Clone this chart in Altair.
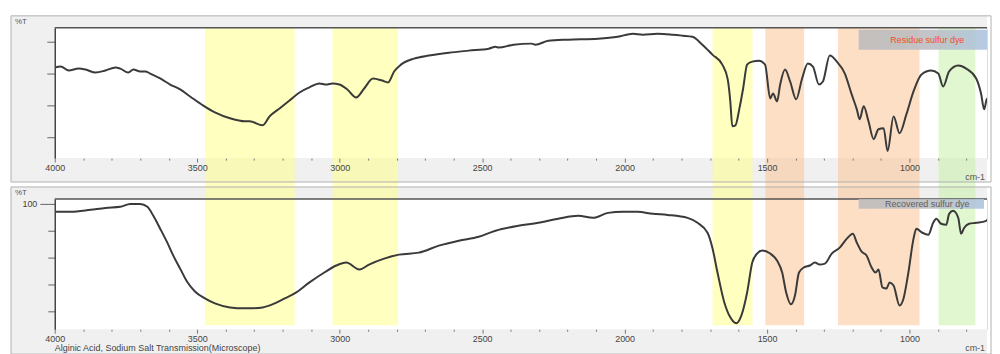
import altair as alt
import pandas as pd

# ---------------- data ----------------
# Top panel: "Residue sulfur dye"  (wavenumber cm-1, %T)
wn_top = [4000, 3979, 3951, 3916, 3892, 3857, 3822, 3787, 3770, 3742, 3724, 3700, 3682, 3665,
          3630, 3595, 3560, 3525, 3480, 3438, 3385, 3333, 3316, 3270, 3246, 3211, 3176, 3141,
          3106, 3071, 3047, 3026, 3001, 2973, 2942, 2914, 2883, 2851, 2830, 2809, 2785, 2739,
          2687, 2617, 2547, 2477, 2453, 2443, 2390, 2327, 2313, 2268, 2198, 2093, 2024, 1971,
          1936, 1884, 1831, 1797, 1762, 1727, 1692, 1657, 1638, 1629, 1622, 1611, 1597, 1584,
          1570, 1552, 1528, 1507, 1489, 1479, 1465, 1454, 1437, 1419, 1398, 1377, 1357, 1339,
          1318, 1304, 1280, 1255, 1227, 1203, 1185, 1175, 1161, 1144, 1126, 1109, 1091, 1077,
          1056, 1035, 1011, 986, 958, 924, 899, 882, 861, 829, 801, 766, 749, 738, 728, 714, 704]
t_top = [63.8, 64.4, 61.9, 63.1, 62.5, 60.6, 61.9, 63.8, 63.1, 60.6, 62.5, 61.3, 61.3, 60.0,
         56.9, 53.1, 50.0, 45.6, 40.0, 35.6, 31.9, 30.0, 30.0, 27.5, 33.1, 38.1, 43.1, 48.1,
         51.3, 53.8, 53.1, 53.8, 53.1, 50.0, 45.0, 50.6, 56.9, 55.6, 54.4, 61.3, 65.6, 69.4,
         71.3, 73.1, 74.4, 75.6, 76.9, 76.3, 78.1, 78.8, 78.1, 80.6, 81.3, 81.9, 83.1, 85.0,
         84.4, 85.0, 84.4, 83.8, 83.1, 78.1, 71.9, 65.6, 56.3, 42.5, 26.9, 27.5, 38.1, 50.6,
         65.6, 67.5, 68.1, 65.6, 44.4, 47.5, 42.5, 53.1, 62.5, 55.0, 43.8, 56.9, 66.3, 64.4,
         53.1, 55.0, 71.3, 67.5, 60.0, 46.9, 37.5, 31.3, 39.4, 30.0, 18.8, 25.0, 25.6, 11.3,
         33.1, 22.5, 34.4, 48.8, 59.4, 61.9, 60.0, 51.9, 61.3, 65.0, 63.1, 56.9, 47.5, 37.5,
         44.4, 33.1, 28.1]

# Bottom panel: "Recovered sulfur dye"
wn_bot = [4000, 3944, 3874, 3822, 3770, 3735, 3700, 3675, 3654, 3630, 3605, 3584, 3560, 3536,
          3508, 3473, 3438, 3385, 3333, 3316, 3270, 3228, 3193, 3158, 3106, 3054, 3012, 2977,
          2931, 2897, 2844, 2792, 2722, 2652, 2582, 2512, 2453, 2373, 2303, 2233, 2163, 2111,
          2058, 2006, 1954, 1901, 1849, 1779, 1744, 1709, 1692, 1674, 1650, 1629, 1608, 1590,
          1570, 1552, 1535, 1517, 1489, 1465, 1447, 1433, 1416, 1402, 1388, 1371, 1350, 1332,
          1315, 1297, 1273, 1245, 1220, 1199, 1185, 1168, 1151, 1133, 1119, 1109, 1095, 1081,
          1070, 1056, 1035, 1021, 1004, 986, 976, 955, 934, 917, 906, 889, 871, 861, 847, 829,
          819, 808, 791, 766, 731, 714, 704]
t_bot = [94.1, 94.1, 95.6, 97.0, 97.8, 100.0, 100.0, 97.8, 91.1, 81.5, 71.1, 61.5, 51.8, 42.2,
         34.8, 29.6, 25.9, 22.9, 22.2, 22.2, 22.9, 25.9, 29.6, 33.3, 41.5, 48.9, 54.1, 56.3,
         51.1, 54.8, 59.2, 62.2, 63.7, 68.9, 72.6, 75.5, 80.0, 83.7, 85.9, 88.9, 91.1, 89.6,
         93.3, 94.1, 94.1, 92.6, 91.8, 89.6, 85.9, 78.5, 67.4, 48.9, 26.6, 15.5, 11.1, 17.0,
         34.0, 56.3, 63.0, 65.2, 63.0, 57.8, 48.9, 34.0, 25.2, 31.8, 48.9, 52.6, 54.1, 56.3,
         54.8, 55.5, 63.0, 67.4, 74.1, 77.8, 71.1, 64.4, 61.5, 52.6, 48.9, 51.1, 37.8, 37.0,
         41.5, 39.2, 24.4, 29.6, 48.9, 74.1, 81.5, 78.5, 77.0, 85.9, 88.9, 85.2, 84.4, 92.6,
         94.8, 89.6, 77.8, 82.2, 85.2, 85.9, 87.4, 91.1, 87.4]

# highlighted wavenumber regions
band_start = [3473, 3025, 1691, 1506, 1251, 898]
band_end = [3158, 2795, 1551, 1370, 965, 769]
band_kind = ["yellow", "yellow", "yellow", "orange", "orange", "green"]

x_labels = [4000, 3500, 3000, 2500, 2000, 1500, 1000]
top_yticks = [20, 40, 60, 80]
bot_yticks = [20, 40, 60, 80, 100]

panel_labels = ["Residue sulfur dye", "Recovered sulfur dye"]
panel_label_colors = ["#f24e26", "#5f5f5f"]
y_title = "%T"
x_unit = "cm-1"
footer = "Alginic Acid, Sodium Salt  Transmission(Microscope)"

# ---------------- chart ----------------
W, H = 937, 131
FONT = "Liberation Sans"
one = pd.DataFrame({"k": [0]})
bands = pd.DataFrame({"start": band_start, "end": band_end, "kind": band_kind})

xscale = alt.Scale(domain=[728, 4000], reverse=True, nice=False, zero=False)
xaxis = alt.Axis(
    values=list(range(800, 4001, 100)),
    format="d",
    labelExpr="datum.value % 500 === 0 ? datum.label : ''",
    tickSize={"condition": {"test": "datum.value % 500 === 0", "value": 4}, "value": 2},
    tickColor="#777777",
    domain=False,
    grid=False,
    title=None,
    labelFont=FONT,
    labelFontSize=9,
    labelColor="#444444",
    labelPadding=1,
    labelFlush=False,
    zindex=1,
)


def panel(wn, t, ydom, yticks, label_idx, show100, frame_bottom, band_y0, band_y1,
          box_x2, box_y1, box_y2, text_y):
    curve = pd.DataFrame({"wn": wn, "t": t})
    if show100:
        yaxis = alt.Axis(
            values=yticks, labelExpr="datum.value === 100 ? '100' : ''",
            tickSize={"condition": {"test": "datum.value === 100", "value": 15}, "value": 7},
            labelPadding=3, labelFont=FONT, labelFontSize=9, labelColor="#444444",
            domainColor="#444444", domainWidth=1.5, tickColor="#666666", grid=False,
            title=None, zindex=1,
        )
    else:
        yaxis = alt.Axis(
            values=yticks, labels=False, tickSize=8, domainColor="#444444",
            domainWidth=1.5, tickColor="#666666", grid=False, title=None, zindex=1,
        )
    frame_fill = alt.Chart(one).mark_rect(fill="#f0f0f0").encode(
        x=alt.value(-44), x2=alt.value(W), y=alt.value(-12), y2=alt.value(H + frame_bottom))
    plot_bg = alt.Chart(one).mark_rect(fill="white").encode(
        x=alt.value(0), x2=alt.value(W), y=alt.value(0), y2=alt.value(H))
    band_layer = alt.Chart(bands).mark_rect(opacity=0.5).encode(
        x=alt.X("start:Q", scale=xscale, axis=xaxis),
        x2="end:Q",
        y=alt.value(band_y0), y2=alt.value(band_y1),
        color=alt.Color("kind:N", legend=None,
                        scale=alt.Scale(domain=["yellow", "orange", "green"],
                                        range=["#ffff80", "#f9c08c", "#c2f0a0"])),
    )
    frame_line = alt.Chart(one).mark_rect(fillOpacity=0, stroke="#b0b0b0", strokeWidth=1).encode(
        x=alt.value(-44), x2=alt.value(W + 4), y=alt.value(-12), y2=alt.value(H + frame_bottom))
    top_line = alt.Chart(one).mark_rule(color="#555555", strokeWidth=1.5).encode(
        x=alt.value(0), x2=alt.value(W), y=alt.value(0))
    grad = alt.LinearGradient(
        gradient="linear", x1=0, x2=1, y1=0, y2=0,
        stops=[alt.GradientStop(offset=0, color="#bcbcbc"),
               alt.GradientStop(offset=0.55, color="#bdbec2"),
               alt.GradientStop(offset=1, color="#adc5df")])
    box = alt.Chart(one).mark_rect(fill=grad, opacity=0.9).encode(
        x=alt.value(808), x2=alt.value(box_x2), y=alt.value(box_y1), y2=alt.value(box_y2))
    box_text = alt.Chart(one).mark_text(
        font=FONT, fontSize=9, color=panel_label_colors[label_idx], align="center",
        baseline="middle").encode(
        x=alt.value(877), y=alt.value((box_y1 + box_y2) / 2),
        text=alt.value(panel_labels[label_idx]))
    ttl = alt.Chart(one).mark_text(font=FONT, fontSize=8, color="#555555", align="left",
                                   baseline="middle").encode(
        x=alt.value(-40), y=alt.value(-6), text=alt.value(y_title))
    unit = alt.Chart(one).mark_text(font=FONT, fontSize=9, color="#555555", align="right",
                                    baseline="middle").encode(
        x=alt.value(W - 2), y=alt.value(H + text_y), text=alt.value(x_unit))
    line = alt.Chart(curve).mark_line(color="#3a3a3a", strokeWidth=2, interpolate="monotone",
                                      clip=True).encode(
        x=alt.X("wn:Q", scale=xscale, axis=xaxis),
        y=alt.Y("t:Q", scale=alt.Scale(domain=ydom, nice=False, zero=False), axis=yaxis),
    )
    layers = [frame_fill, plot_bg, band_layer, frame_line, top_line, box, box_text, ttl, unit]
    if show100:
        foot = alt.Chart(one).mark_text(font=FONT, fontSize=9, color="#444444", align="left",
                                        baseline="middle").encode(
            x=alt.value(0), y=alt.value(H + text_y), text=alt.value(footer))
        layers.append(foot)
    layers.append(line)
    return alt.layer(*layers).properties(width=W, height=H)


top = panel(wn_top, t_top, [6.875, 88.75], top_yticks, 0, False, 24, 0, H + 29, W, 2, 22, 19)
bottom = panel(wn_bot, t_bot, [6.63, 103.7], bot_yticks, 1, True, 25, -12, H - 4, W - 3, 0, 10, 19)

chart = alt.vconcat(top, bottom, spacing=41, bounds="flush").properties(
    padding={"left": 2, "top": 6, "right": 0, "bottom": 0}
).configure_view(stroke=None).configure(background="white", font=FONT)

chart.save("out.html", embed_options={"renderer": "svg", "actions": False})
